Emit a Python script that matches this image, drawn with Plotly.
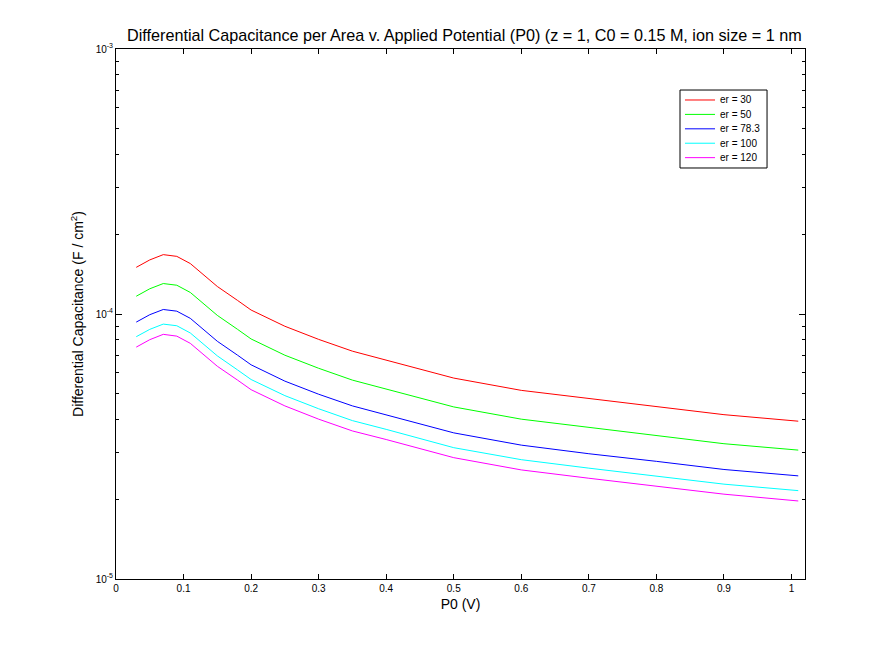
import plotly.graph_objects as go

# applied potential P0 (V)
potential = [0.03, 0.05, 0.07, 0.09, 0.11, 0.13, 0.15, 0.18, 0.20, 0.25,
             0.30, 0.35, 0.40, 0.50, 0.60, 0.70, 0.80, 0.90, 1.01]

# differential capacitance (F / cm^2)
cap_er30 = [1.500e-4, 1.600e-4, 1.675e-4, 1.650e-4, 1.550e-4, 1.400e-4, 1.270e-4,
            1.125e-4, 1.035e-4, 8.99e-5, 8.02e-5, 7.24e-5, 6.71e-5, 5.73e-5,
            5.15e-5, 4.79e-5, 4.47e-5, 4.17e-5, 3.94e-5]
cap_er50 = [1.167e-4, 1.245e-4, 1.303e-4, 1.284e-4, 1.206e-4, 1.089e-4, 9.88e-5,
            8.75e-5, 8.05e-5, 6.99e-5, 6.24e-5, 5.63e-5, 5.22e-5, 4.46e-5,
            4.01e-5, 3.73e-5, 3.48e-5, 3.24e-5, 3.065e-5]
cap_er78 = [9.32e-5, 9.94e-5, 1.040e-4, 1.025e-4, 9.63e-5, 8.69e-5, 7.89e-5,
            6.99e-5, 6.43e-5, 5.58e-5, 4.98e-5, 4.50e-5, 4.17e-5, 3.56e-5,
            3.20e-5, 2.97e-5, 2.78e-5, 2.59e-5, 2.45e-5]
cap_er100 = [8.21e-5, 8.75e-5, 9.16e-5, 9.03e-5, 8.48e-5, 7.66e-5, 6.95e-5,
             6.15e-5, 5.66e-5, 4.92e-5, 4.39e-5, 3.96e-5, 3.67e-5, 3.13e-5,
             2.82e-5, 2.62e-5, 2.45e-5, 2.28e-5, 2.155e-5]
cap_er120 = [7.50e-5, 8.00e-5, 8.38e-5, 8.25e-5, 7.75e-5, 7.00e-5, 6.35e-5,
             5.63e-5, 5.18e-5, 4.50e-5, 4.01e-5, 3.62e-5, 3.36e-5, 2.87e-5,
             2.58e-5, 2.40e-5, 2.24e-5, 2.09e-5, 1.97e-5]

series_names = ["er = 30", "er = 50", "er = 78.3", "er = 100", "er = 120"]
series_vals = [cap_er30, cap_er50, cap_er78, cap_er100, cap_er120]
series_colors = ["#ff0000", "#00ff00", "#0000ff", "#00ffff", "#ff00ff"]

x_ticks = [0, 0.1, 0.2, 0.3, 0.4, 0.5, 0.6, 0.7, 0.8, 0.9, 1]
x_ticktext = ["0", "0.1", "0.2", "0.3", "0.4", "0.5", "0.6", "0.7", "0.8", "0.9", "1"]
y_ticks = [1e-5, 1e-4, 1e-3]
y_ticktext = ["10<sup>-5</sup>", "10<sup>-4</sup>", "10<sup>-3</sup>"]
y_minor = [m * 10 ** e for e in (-5, -4) for m in range(2, 10)]

FONT = "Liberation Sans"

fig = go.Figure()
for name, vals, col in zip(series_names, series_vals, series_colors):
    fig.add_trace(go.Scatter(x=potential, y=vals, mode="lines", name=name,
                             line=dict(color=col, width=1), showlegend=False))

# MATLAB-style legend box (drawn by hand so the rows can sit close together)
leg_x0, leg_x1, leg_top, leg_bot = 0.8186, 0.9449, 0.9226, 0.7755
row_top, row_step = 0.9038, 0.0272
fig.add_shape(type="rect", xref="paper", yref="paper",
              x0=leg_x0, x1=leg_x1, y0=leg_bot, y1=leg_top,
              line=dict(color="black", width=1), fillcolor="white", layer="above")
for i, (name, col) in enumerate(zip(series_names, series_colors)):
    ry = row_top - i * row_step
    fig.add_shape(type="line", xref="paper", yref="paper",
                  x0=0.8258, x1=0.8694, y0=ry, y1=ry,
                  line=dict(color=col, width=1), layer="above")
    fig.add_annotation(text=name, xref="paper", yref="paper", x=0.8737, y=ry,
                       xanchor="left", yanchor="middle", showarrow=False,
                       font=dict(family=FONT, size=10, color="black"))

fig.update_layout(
    width=881, height=643,
    margin=dict(l=108, r=84, t=41, b=72),
    paper_bgcolor="white", plot_bgcolor="white",
    font=dict(family=FONT, size=10, color="black"),
    title=dict(text="Differential Capacitance per Area v. Applied Potential (P0) "
                    "(z = 1, C0 = 0.15 M, ion size = 1 nm",
               x=0.518, xanchor="center", y=0.958, yanchor="middle",
               font=dict(family=FONT, size=16.2, color="black")),
    showlegend=False,
)

fig.update_xaxes(
    range=[0, 1.02], tickmode="array", tickvals=x_ticks, ticktext=x_ticktext,
    ticks="inside", ticklen=5, tickcolor="black", showgrid=False, zeroline=False,
    showline=True, linecolor="black", linewidth=1, mirror="allticks",
    tickfont=dict(family=FONT, size=10, color="black"),
    title=dict(text="P0 (V)", font=dict(family=FONT, size=14, color="black"), standoff=6),
)
fig.update_yaxes(
    type="log", range=[-5, -3], tickmode="array", tickvals=y_ticks, ticktext=y_ticktext,
    ticks="inside", ticklen=6, tickcolor="black", showgrid=False, zeroline=False,
    showline=True, linecolor="black", linewidth=1, mirror="allticks",
    minor=dict(tickmode="array", tickvals=y_minor, ticks="inside", ticklen=3,
               tickcolor="black", showgrid=False),
    tickfont=dict(family=FONT, size=10, color="black"),
    title=dict(text="Differential Capacitance (F / cm<sup>2</sup>)",
               font=dict(family=FONT, size=14, color="black"), standoff=8),
)

fig.write_html("out.html")
